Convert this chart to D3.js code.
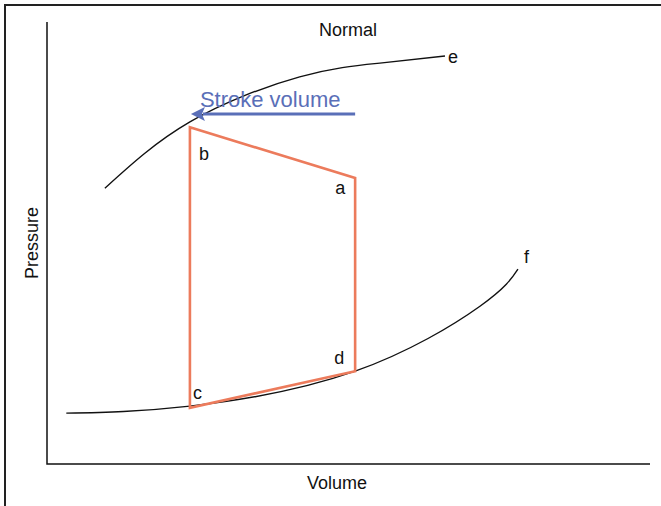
<!DOCTYPE html>
<html>
<head>
<meta charset="utf-8">
<script src="https://cdn.jsdelivr.net/npm/d3@7"></script>
<style>
  body { margin: 0; background: #fff; }
  text { font-family: "Liberation Sans", Arial, sans-serif; fill: #111; }
</style>
</head>
<body>
<svg class="chart"></svg>
<script>
// data in arbitrary volume / pressure units (0-100)
const curveE = [[9.6, 62.4], [23.7, 77.4], [41.9, 87.6], [55.2, 90.7], [66.0, 92.3]];
const curveF = [[3.2, 11.5], [23.7, 13.1], [51.1, 21.0], [71.8, 35.7], [78.1, 44.1]];
const loopNames = ['b', 'a', 'd', 'c'];
const loopVolume = [23.7, 51.1, 51.1, 23.7];
const loopPressure = [76.2, 64.7, 21.0, 12.7];
const strokeFrom = 51.1, strokeTo = 24.2, strokeLevel = 79.2;

const W = 661, H = 506;
const svg = d3.select('.chart').attr('width', W).attr('height', H);

const x = d3.scaleLinear().domain([0, 100]).range([47, 650]);
const y = d3.scaleLinear().domain([0, 100]).range([464, 22]);

// outer frame
svg.append('path')
  .attr('d', `M5,${H} V5 H${W}`)
  .attr('fill', 'none').attr('stroke', '#222').attr('stroke-width', 2);

// axes (no ticks)
svg.append('path')
  .attr('d', `M${x(0)},${y(100)} V${y(0)} H${x(100)}`)
  .attr('fill', 'none').attr('stroke', '#111').attr('stroke-width', 1.5);

const line = d3.line().x(d => x(d[0])).y(d => y(d[1])).curve(d3.curveNatural);

svg.selectAll('.curve').data([curveE, curveF])
  .enter().append('path')
  .attr('class', 'curve')
  .attr('d', line)
  .attr('fill', 'none').attr('stroke', '#111').attr('stroke-width', 1.4);

// pressure-volume loop
const loop = loopNames.map((n, i) => ({ name: n, v: loopVolume[i], p: loopPressure[i] }));
svg.append('path')
  .attr('d', d3.line().x(d => x(d.v)).y(d => y(d.p))(loop) + 'Z')
  .attr('fill', 'none').attr('stroke', '#ec7b5c').attr('stroke-width', 2.6)
  .attr('stroke-linejoin', 'miter');

const labelOffset = { b: [9, 33], a: [-20, 16], d: [-21, -7], c: [3, -9] };
svg.selectAll('.lbl').data(loop)
  .enter().append('text')
  .attr('class', 'lbl')
  .attr('x', d => x(d.v) + labelOffset[d.name][0])
  .attr('y', d => y(d.p) + labelOffset[d.name][1])
  .attr('font-size', 18)
  .text(d => d.name);

// curve labels
svg.append('text').attr('x', x(curveE[curveE.length - 1][0]) + 3).attr('y', y(curveE[curveE.length - 1][1]) + 7)
  .attr('font-size', 18).text('e');
svg.append('text').attr('x', x(curveF[curveF.length - 1][0]) + 6).attr('y', y(curveF[curveF.length - 1][1]) - 6)
  .attr('font-size', 18).text('f');

// stroke volume arrow
const blue = '#5a6fb8';
svg.append('line')
  .attr('x1', x(strokeFrom)).attr('x2', x(strokeTo) + 10)
  .attr('y1', y(strokeLevel)).attr('y2', y(strokeLevel))
  .attr('stroke', blue).attr('stroke-width', 3);
const ax = x(strokeTo) - 2, ay = y(strokeLevel);
svg.append('path')
  .attr('d', `M${ax},${ay} L${ax + 14},${ay - 7} L${ax + 11},${ay} L${ax + 14},${ay + 7} Z`)
  .attr('fill', blue);
svg.append('text')
  .attr('x', x(strokeTo) + 7).attr('y', y(strokeLevel) - 7)
  .attr('font-size', 22).style('fill', blue).text('Stroke volume');

// titles
svg.append('text').attr('x', 348).attr('y', 36).attr('text-anchor', 'middle')
  .attr('font-size', 18).text('Normal');
svg.append('text').attr('x', 337).attr('y', 489).attr('text-anchor', 'middle')
  .attr('font-size', 18).text('Volume');
svg.append('text')
  .attr('transform', `translate(38,243) rotate(-90)`)
  .attr('text-anchor', 'middle').attr('font-size', 18).text('Pressure');
</script>
</body>
</html>
